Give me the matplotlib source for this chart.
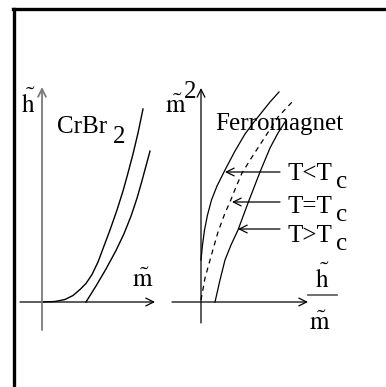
import matplotlib
matplotlib.use("Agg")
import matplotlib.pyplot as plt
from matplotlib.lines import Line2D

plt.rcParams['font.family'] = ['Liberation Serif', 'DejaVu Serif']
plt.rcParams['mathtext.fontset'] = 'stix'

# CrBr2 magnetisation curves, h~ against m~ (scaled units)
crbr_m1 = [0.00, 0.13, 0.23, 0.31, 0.38, 0.44, 0.50, 0.56, 0.62, 0.68, 0.75, 0.81, 0.86, 0.91, 0.96, 1.01]
crbr_h1 = [0.00, 0.005, 0.025, 0.065, 0.125, 0.185, 0.275, 0.40, 0.56, 0.72, 0.92, 1.11, 1.29, 1.48, 1.69, 1.93]
crbr_m2 = [0.44, 0.54, 0.64, 0.74, 0.82, 0.89, 0.95, 1.00, 1.04, 1.08]
crbr_h2 = [0.00, 0.16, 0.33, 0.515, 0.683, 0.858, 1.038, 1.213, 1.361, 1.509]

# Arrott plot of a ferromagnet, m~^2 against h~/m~
below_x = [0.00, 0.015, 0.035, 0.065, 0.105, 0.16, 0.24, 0.34, 0.44, 0.53, 0.61, 0.69, 0.78]
below_y = [0.42, 0.57, 0.72, 0.87, 1.02, 1.16, 1.32, 1.51, 1.68, 1.80, 1.90, 2.00, 2.10]
crit_x = [0.00, 0.04, 0.11, 0.17, 0.24, 0.29, 0.35, 0.41, 0.51, 0.64, 0.77, 0.92]
crit_y = [0.02, 0.24, 0.49, 0.70, 0.89, 1.00, 1.15, 1.29, 1.45, 1.65, 1.85, 2.01]
above_x = [0.14, 0.19, 0.24, 0.30, 0.37, 0.47, 0.59, 0.69, 0.77, 0.84]
above_y = [0.00, 0.22, 0.42, 0.57, 0.72, 0.99, 1.30, 1.54, 1.69, 1.80]

# labels and where their arrows point
curve_labels = ['T<T', 'T=T', 'T>T']
arrow_y = [1.30, 1.00, 0.73]
arrow_tip = [0.24, 0.31, 0.37]

W, H = 386, 387
fig = plt.figure(figsize=(W / 100, H / 100), dpi=100)


def px_axes(x0, y0, x1, y1):
    return fig.add_axes([x0 / W, 1 - y1 / H, (x1 - x0) / W, (y1 - y0) / H])


# overlay in pixel units for the frame and the labels
ov = px_axes(0, 0, W, H)
ov.set_xlim(0, W)
ov.set_ylim(H, 0)
ov.axis('off')

fs = 18
blk = 'black'

ax1 = px_axes(20, 80, 160, 335)
ax1.set_xlim(-0.22, 1.18)
ax1.set_ylim(-0.33, 2.22)
ax1.axis('off')

ax2 = px_axes(165, 80, 310, 335)
ax2.set_xlim(-0.36, 1.09)
ax2.set_ylim(-0.33, 2.22)
ax2.axis('off')

arr = dict(arrowstyle='->', lw=0.9, color=blk, mutation_scale=14, shrinkA=0, shrinkB=0)

# left panel axes
ax1.annotate('', xy=(1.13, 0), xytext=(-0.22, 0), arrowprops=arr)
ax1.annotate('', xy=(0, 2.15), xytext=(0, -0.28),
             arrowprops=dict(arr, color='#7a7a7a', lw=1.3))
ax1.plot(crbr_m1, crbr_h1, color=blk, lw=1.0)
ax1.plot(crbr_m2, crbr_h2, color=blk, lw=1.0)

# right panel axes
ax2.annotate('', xy=(1.07, 0), xytext=(-0.29, 0), arrowprops=arr)
ax2.annotate('', xy=(0, 2.14), xytext=(0, -0.21), arrowprops=arr)
ax2.plot(below_x, below_y, color=blk, lw=0.9)
ax2.plot(crit_x, crit_y, color=blk, lw=0.9, linestyle=(0, (4, 3.5)))
ax2.plot(above_x, above_y, color=blk, lw=0.9)
for yy, tip in zip(arrow_y, arrow_tip):
    ax2.annotate('', xy=(tip, yy), xytext=(0.79, yy), arrowprops=arr)

# frame lines at left and top
ov.add_line(Line2D([14, 14], [9, H + 5], color=blk, lw=2.4))
ov.add_line(Line2D([13, W + 5], [9, 9], color=blk, lw=2.4))


def txt(x, y, s, **kw):
    ov.text(x, y, s, fontsize=kw.pop('size', fs), ha=kw.pop('ha', 'left'),
            va=kw.pop('va', 'baseline'), color=blk, **kw)


H_T = r'$\tilde{\mathrm{h}}$'
M_T = r'$\tilde{\mathrm{m}}$'

# left panel text
txt(21, 113, H_T)
txt(57, 133, 'CrBr')
txt(113, 143, '2')
txt(132, 287, M_T)

# right panel text
txt(165, 113, M_T)
txt(184, 98, '2')
txt(215, 130, 'Ferromagnet')
label_base = [180, 213, 242]
for lab, yb in zip(curve_labels, label_base):
    txt(287, yb, lab)
    txt(336, yb + 8, 'c')

txt(315, 288, H_T)
ov.add_line(Line2D([308, 337], [295, 295], color='#555555', lw=1.2))
txt(309, 330, M_T)

fig.savefig('out.png', dpi=100)
